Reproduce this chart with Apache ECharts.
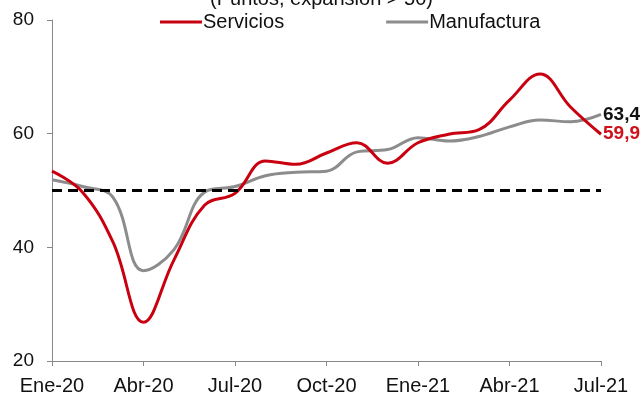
<!DOCTYPE html>
<html><head><meta charset="utf-8">
<script src="https://cdn.jsdelivr.net/npm/echarts@6/dist/echarts.min.js"></script>
<style>html,body{margin:0;padding:0;background:#fff}#c{width:643px;height:397px}</style>
</head><body><div id="c"></div>
<script>
const categories = ['Ene-20','Feb-20','Mar-20','Abr-20','May-20','Jun-20','Jul-20','Ago-20','Sep-20','Oct-20','Nov-20','Dic-20','Ene-21','Feb-21','Mar-21','Abr-21','May-21','Jun-21','Jul-21'];
const servicios   = [53.4, 49.7, 40.9, 26.8, 37.8, 47.4, 49.5, 55.2, 54.6, 56.6, 58.4, 54.8, 58.4, 59.9, 60.7, 65.9, 70.5, 64.7, 59.9];
const manufactura = [51.9, 50.7, 48.8, 35.9, 39.6, 49.7, 50.7, 52.6, 53.2, 53.4, 56.8, 57.2, 59.3, 58.7, 59.5, 61.2, 62.4, 62.1, 63.4];
const yTicks = [20, 40, 60, 80];
const threshold = 50;
const titleText = '(Puntos, expansión > 50)';

const font = 'Liberation Sans, Arial, sans-serif';
const chart = echarts.init(document.getElementById('c'));
chart.setOption({
  animation: false,
  title: { text: titleText, left: 'center', top: -16,
    textStyle: { fontFamily: font, fontSize: 20, fontWeight: 'normal', color: '#111' } },
  legend: {
    top: 7, left: 155, itemGap: 102, itemWidth: 42, itemHeight: 3,
    icon: 'rect',
    textStyle: { fontFamily: font, fontSize: 20, color: '#111', padding: [0,0,0,-4] },
    data: ['Servicios', 'Manufactura']
  },
  grid: { left: 52, right: 42, top: 20, bottom: 36 },
  xAxis: {
    type: 'category', data: categories, boundaryGap: false,
    axisLine: { lineStyle: { color: '#888', width: 1 } },
    axisTick: { interval: 2, length: 5, lineStyle: { color: '#888' } },
    axisLabel: { interval: 2, fontFamily: font, fontSize: 20, color: '#111', margin: 15 },
    splitLine: { show: false }
  },
  yAxis: {
    type: 'value', min: yTicks[0], max: yTicks[yTicks.length-1], interval: 20,
    axisLine: { show: true, lineStyle: { color: '#888', width: 1 } },
    axisTick: { show: true, length: 5, lineStyle: { color: '#888' } },
    axisLabel: { fontFamily: font, fontSize: 19, color: '#111', margin: 18 },
    splitLine: { show: false }
  },
  series: [
    {
      name: 'Servicios', type: 'line', data: servicios, smooth: 0.4, symbol: 'none',
      lineStyle: { color: '#C8000F', width: 3 }, itemStyle: { color: '#C8000F' },
      endLabel: { show: true, formatter: p => p.value.toFixed(1).replace('.', ','),
        fontFamily: font, fontSize: 19, fontWeight: 'bold', color: '#D0101A', distance: 2 },
      markLine: {
        silent: true, symbol: 'none', label: { show: false },
        lineStyle: { color: '#000', type: [10, 6], width: 3 },
        data: [{ yAxis: threshold }]
      },
      z: 3
    },
    {
      name: 'Manufactura', type: 'line', data: manufactura, smooth: 0.4, symbol: 'none',
      lineStyle: { color: '#8C8C8C', width: 3 }, itemStyle: { color: '#8C8C8C' },
      endLabel: { show: true, formatter: p => p.value.toFixed(1).replace('.', ','),
        fontFamily: font, fontSize: 19, fontWeight: 'bold', color: '#111', distance: 2 },
      z: 2
    }
  ]
});
</script></body></html>
